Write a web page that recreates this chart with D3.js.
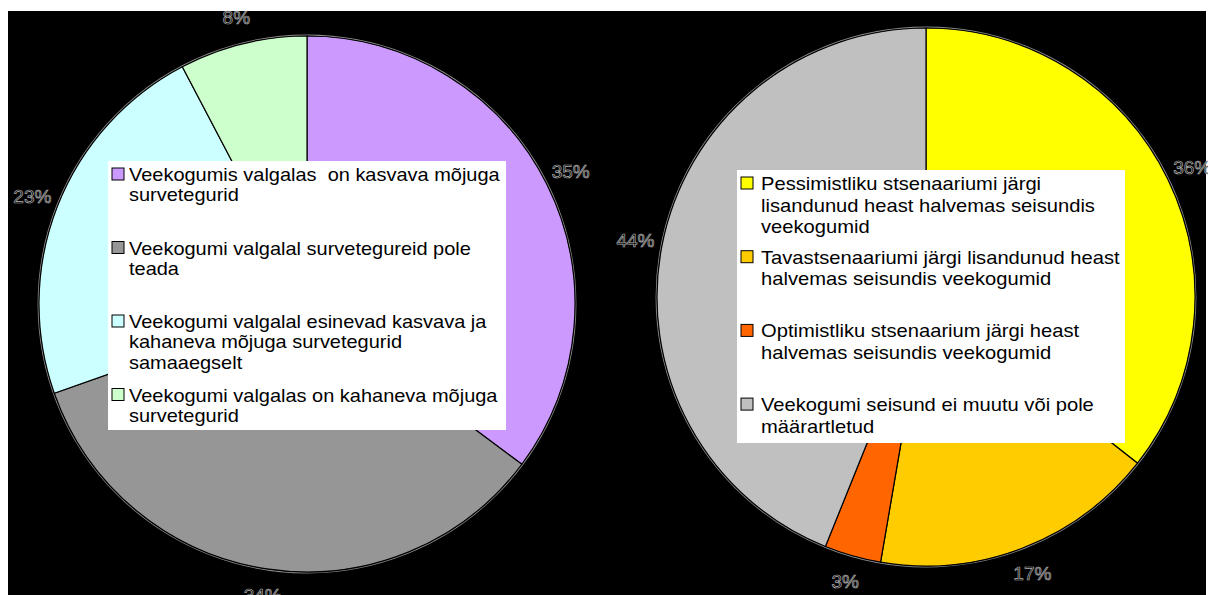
<!DOCTYPE html>
<html><head><meta charset="utf-8">
<script src="https://cdn.jsdelivr.net/npm/d3@7"></script>
<style>body{margin:0;background:#fff}svg{display:block}text{font-family:"Liberation Sans",Arial,sans-serif}</style>
</head><body>
<svg id="c" width="1208" height="595"></svg>
<script>
// Left pie
const leftCategories = [
  "Veekogumis valgalas  on kasvava mõjuga\nsurvetegurid",
  "Veekogumi valgalal survetegureid pole\nteada",
  "Veekogumi valgalal esinevad kasvava ja\nkahaneva mõjuga survetegurid\nsamaaegselt",
  "Veekogumi valgalas on kahaneva mõjuga\nsurvetegurid"
];
const leftValues = [35.2, 34.4, 22.7, 7.7];
const leftColors = ["#CC99FF", "#969696", "#CCFFFF", "#CCFFCC"];

// Right pie
const rightCategories = [
  "Pessimistliku stsenaariumi järgi\nlisandunud heast halvemas seisundis\nveekogumid",
  "Tavastsenaariumi järgi lisandunud heast\nhalvemas seisundis veekogumid",
  "Optimistliku stsenaarium järgi heast\nhalvemas seisundis veekogumid",
  "Veekogumi seisund ei muutu või pole\nmäärartletud"
];
const rightValues = [35.6, 17.1, 3.4, 43.9];
const rightColors = ["#FFFF00", "#FFCC00", "#FF6600", "#C0C0C0"];

const svg = d3.select("#c");
svg.append("rect").attr("x", 8).attr("y", 11).attr("width", 1198).attr("height", 584).attr("fill", "#000");

function drawPie(cx, cy, R, values, colors) {
  const total = d3.sum(values);
  const pie = d3.pie().sort(null).value(d => d);
  const arc = d3.arc().innerRadius(0).outerRadius(R);
  const lab = d3.arc().innerRadius(R + 27).outerRadius(R + 27);
  const g = svg.append("g").attr("transform", `translate(${cx},${cy})`);
  g.append("circle").attr("r", R + 0.8).attr("fill", "none").attr("stroke", "#8a8a8a").attr("stroke-width", 1.2);
  const arcs = pie(values);
  g.selectAll("path").data(arcs).join("path")
    .attr("d", arc).attr("fill", (d, i) => colors[i])
    .attr("stroke", "#000").attr("stroke-width", 1.2);
  g.selectAll("text.pct").data(arcs).join("text").attr("class", "pct")
    .attr("transform", d => `translate(${lab.centroid(d)})`)
    .attr("text-anchor", "middle").attr("dominant-baseline", "central")
    .attr("font-size", 19).attr("fill", "#000").attr("stroke", "#b0b0b0").attr("stroke-width", 0.7)
    .text(d => Math.round(d.data / total * 100) + "%");
}

function drawLegend(x, y, w, h, cats, colors, fs, lh, step, tx, sx) {
  const g = svg.append("g").attr("transform", `translate(${x},${y})`);
  g.append("rect").attr("width", w).attr("height", h).attr("fill", "#fff");
  cats.forEach((c, i) => {
    const by = 20 + i * step;
    g.append("rect").attr("x", 4).attr("y", by - 13).attr("width", 12).attr("height", 12)
      .attr("fill", colors[i]).attr("stroke", "#000").attr("stroke-width", 1);
    const t = g.append("text").attr("transform", `translate(${tx},${by}) scale(${sx},1)`)
      .attr("font-size", fs).attr("fill", "#000").style("white-space", "pre");
    c.split("\n").forEach((line, j) => {
      t.append("tspan").attr("x", 0).attr("y", j * lh).text(line);
    });
  });
}

drawPie(307, 304, 268, leftValues, leftColors);
drawPie(926, 297, 269, rightValues, rightColors);
drawLegend(108, 161, 398, 269, leftCategories, leftColors, 18, 20.5, 73.5, 21, 1.11);
drawLegend(737, 170, 388, 273, rightCategories, rightColors, 18, 21.7, 73.7, 24, 1.12);
</script>
</body></html>
